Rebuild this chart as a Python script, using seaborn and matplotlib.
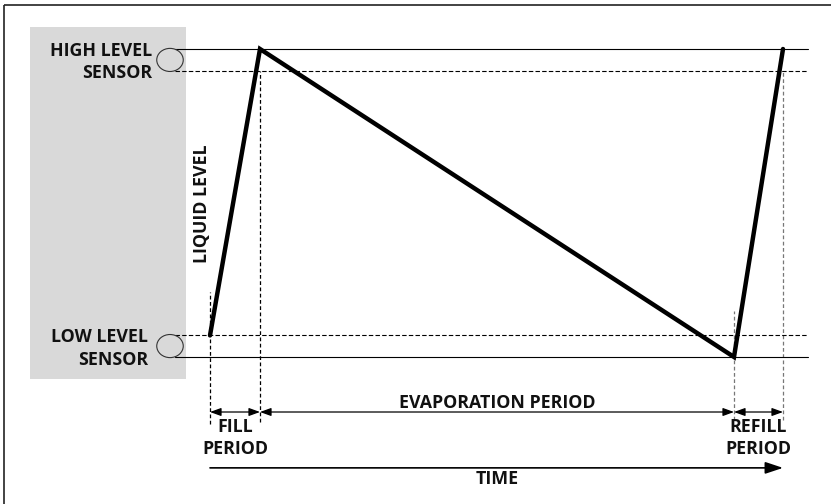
import matplotlib
matplotlib.use("Agg")
from matplotlib import pyplot as plt
from matplotlib.patches import Rectangle, Ellipse
import seaborn as sns
import pandas as pd

# liquid level over time (level 0 = low sensor, 100 = high sensor)
time = [0, 10, 104.8, 114.6]
level = [7, 100, 0, 100]

# sensor lines: solid = switch point, dashed = hysteresis edge
sensor_solid = [100, 0]
sensor_dashed = [92.9, 7.1]
sensor_labels = ["HIGH LEVEL\nSENSOR", "LOW LEVEL\nSENSOR"]
label_right = [-11.6, -12.4]

# phase boundaries on the time axis
phase_edges = [0, 10, 104.8, 114.6]
phase_names = ["FILL\nPERIOD", "EVAPORATION PERIOD", "REFILL\nPERIOD"]

FONT = ["Open Sans", "DejaVu Sans"]
FS = 12.8

sns.set_theme(style="white")
plt.rcParams["font.family"] = FONT

fig = plt.figure(figsize=(8.31, 5.04), dpi=100)
ax = fig.add_axes([0, 0, 1, 1])
ax.set_xlim(-42, 124.2)
ax.set_ylim(-47.73, 115.91)
ax.axis("off")

# outer frame (only top and left edges visible)
ax.plot([-41.2, 124.2], [114.3, 114.3], color="#222222", lw=1.2, solid_capstyle="butt")
ax.plot([-41.2, -41.2], [114.3, -47.73], color="#222222", lw=1.2, solid_capstyle="butt")

# grey sensor block
ax.add_patch(Rectangle((-36, -7.14), 31.2, 114.2, facecolor="#d9d9d9", edgecolor="none", zorder=0))

for s, d, lab, xr in zip(sensor_solid, sensor_dashed, sensor_labels, label_right):
    ax.plot([-7.0, 119.6], [s, s], color="black", lw=0.8)
    ax.plot([-7.0, 119.6], [d, d], color="black", lw=0.8, ls=(0, (4, 2)))
    ax.add_patch(Ellipse((-8.0, (s + d) / 2), 5.3, 7.5, facecolor="none",
                         edgecolor="#333333", lw=0.8, zorder=3))
    ax.text(xr, (s + d) / 2 - 0.8, lab, ha="right", va="center", fontsize=FS,
            fontweight="bold", linespacing=1.3, color="#111111")

# vertical guides
guide_top = [21.1, sensor_dashed[0], 14.9, sensor_dashed[0]]
guide_bot = [-21.8, -21.1, -20.5, -20.5]
guide_col = ["black", "black", "#777777", "#777777"]
for x, t, b, c in zip(phase_edges, guide_top, guide_bot, guide_col):
    ax.plot([x, x], [b, t], color=c, lw=0.9, ls=(0, (3, 2)), zorder=1)

# liquid level trace
df = pd.DataFrame({"time": time, "level": level})
sns.lineplot(data=df, x="time", y="level", sort=False, color="black", lw=3.2, ax=ax,
             zorder=5, solid_joinstyle="miter")

# period arrows
arrow_y = -17.86
for a, b in zip(phase_edges[:-1], phase_edges[1:]):
    ax.annotate("", xy=(b, arrow_y), xytext=(a, arrow_y),
                arrowprops=dict(arrowstyle="<|-|>,head_length=0.55,head_width=0.2",
                                color="black", lw=0.9, shrinkA=0, shrinkB=0))

ax.text(5, -26.4, phase_names[0], ha="center", va="center", fontsize=FS,
        fontweight="bold", linespacing=1.3, color="#111111")
ax.text(57.4, -14.9, phase_names[1], ha="center", va="center", fontsize=FS,
        fontweight="bold", color="#111111")
ax.text(109.7, -26.4, phase_names[2], ha="center", va="center", fontsize=FS,
        fontweight="bold", linespacing=1.3, color="#111111")

# time axis
ax.annotate("", xy=(phase_edges[-1], -36.0), xytext=(phase_edges[0], -36.0),
            arrowprops=dict(arrowstyle="-|>,head_length=0.9,head_width=0.3",
                            color="black", lw=1.2, shrinkA=0, shrinkB=0))
ax.text(57.4, -39.6, "TIME", ha="center", va="center", fontsize=FS,
        fontweight="bold", color="#111111")

ax.text(-1.6, 49.8, "LIQUID LEVEL", ha="center", va="center", rotation=90,
        fontsize=FS, fontweight="bold", color="#111111")

fig.savefig("out.png", dpi=100)
